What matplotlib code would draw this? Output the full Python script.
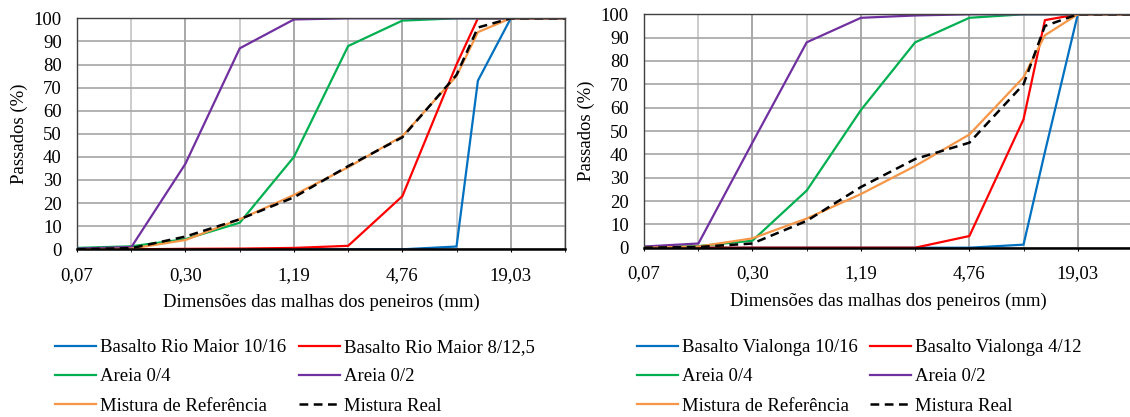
import matplotlib
matplotlib.use("Agg")
import matplotlib.pyplot as plt
from matplotlib.ticker import FixedLocator, NullFormatter

plt.rcParams['font.family'] = ['Liberation Serif', 'DejaVu Serif']

# sieve sizes (mm)
sieves = [0.0743, 0.149, 0.297, 0.595, 1.19, 2.38, 4.76, 9.51, 12.5, 19.03, 38.06]
major_ticks = [0.0743, 0.297, 1.19, 4.76, 19.03]
major_labels = ["0,07", "0,30", "1,19", "4,76", "19,03"]
minor_ticks = [0.149, 0.595, 2.38, 9.51, 38.06]

# left chart - Rio Maior
rm_labels = ["Basalto Rio Maior 10/16", "Basalto Rio Maior 8/12,5", "Areia 0/4",
             "Areia 0/2", "Mistura de Referência", "Mistura Real"]
rm_basalto_1016 = [0, 0, 0, 0, 0, 0, 0, 1.2, 73, 100, 100]
rm_basalto_812 = [0, 0, 0.2, 0.3, 0.6, 1.5, 23, 80, 100, 100, 100]
rm_areia_04 = [0.6, 1.3, 4.4, 11.5, 40, 88, 99, 100, 100, 100, 100]
rm_areia_02 = [0.3, 1.0, 37, 87, 99.5, 100, 100, 100, 100, 100, 100]
rm_referencia = [0, 0.3, 4, 13, 23.5, 35.5, 49, 75, 94, 100, 100]
rm_real = [0, 0.5, 5.5, 13, 22.5, 36, 48.5, 75.5, 96, 100, 100]

# right chart - Vialonga
vl_labels = ["Basalto Vialonga 10/16", "Basalto Vialonga 4/12", "Areia 0/4",
             "Areia 0/2", "Mistura de Referência", "Mistura Real"]
vl_basalto_1016 = [0, 0, 0, 0, 0, 0, 0, 1.3, 41, 100, 100]
vl_basalto_412 = [0, 0, 0, 0, 0, 0, 5, 55, 97.5, 100, 100]
vl_areia_04 = [0.3, 0.7, 3, 24.5, 59, 88, 98.5, 100, 100, 100, 100]
vl_areia_02 = [0.5, 1.8, 45, 88, 98.5, 99.5, 100, 100, 100, 100, 100]
vl_referencia = [0, 0.5, 4, 12.5, 23, 35, 48.5, 73, 91, 100, 100]
vl_real = [0, 0.3, 1.8, 11.5, 26, 38, 45, 70, 95, 100, 100]

colors = ["#0070C0", "#FF0000", "#00B050", "#7030A0", "#F79646", "black"]


def draw(ax, series, labels, legend_pos):
    handles = []
    for i, (vals, lab) in enumerate(zip(series, labels)):
        if i == 5:
            h, = ax.plot(sieves, vals, color=colors[i], lw=1.8, ls=(0, (3.5, 2.2)), label=lab)
        else:
            h, = ax.plot(sieves, vals, color=colors[i], lw=1.6, label=lab)
        handles.append(h)
    ax.set_xscale("log")
    ax.set_xlim(0.0743, 38.06)
    ax.set_ylim(0, 100)
    ax.xaxis.set_major_locator(FixedLocator(major_ticks))
    ax.xaxis.set_minor_locator(FixedLocator(minor_ticks))
    ax.set_xticklabels(major_labels)
    ax.xaxis.set_minor_formatter(NullFormatter())
    ax.set_yticks(range(0, 101, 10))
    ax.grid(True, which="major", axis="x", color="#9a9a9a", lw=1.2)
    ax.grid(True, which="minor", axis="x", color="#c4c4c4", lw=1.2)
    ax.grid(True, which="major", axis="y", color="#a6a6a6", lw=1.2)
    ax.set_axisbelow(True)
    for s in ["top", "right", "left"]:
        ax.spines[s].set_color("#404040")
        ax.spines[s].set_linewidth(1.0)
    ax.spines["bottom"].set_linewidth(1.8)
    ax.tick_params(axis="x", which="both", length=2.5, direction="out", labelsize=13.5, pad=10)
    ax.tick_params(axis="y", length=0, labelsize=13.5, pad=11)
    ax.set_xlabel("Dimensões das malhas dos peneiros (mm)", fontsize=13.5, labelpad=7.5)
    ax.set_ylabel("Passados (%)", fontsize=13.5, labelpad=4)
    order = [0, 2, 4, 1, 3, 5]
    ax.legend([handles[k] for k in order], [labels[k] for k in order],
              loc="upper left", bbox_to_anchor=legend_pos, bbox_transform=ax.figure.transFigure,
              ncol=2, frameon=False, fontsize=13.5, handlelength=2.2, handletextpad=0.2,
              columnspacing=0.66, labelspacing=0.65, borderaxespad=0, borderpad=0)


fig = plt.figure(figsize=(11.3, 4.17), dpi=100)
ax1 = fig.add_axes([77 / 1130, 1 - 249.3 / 417, 488 / 1130, 231 / 417])
ax2 = fig.add_axes([644 / 1130, 1 - 247.7 / 417, 488 / 1130, 233.4 / 417])

draw(ax1, [rm_basalto_1016, rm_basalto_812, rm_areia_04, rm_areia_02, rm_referencia, rm_real],
     rm_labels, (55 / 1130, 1 - 339 / 417))
draw(ax2, [vl_basalto_1016, vl_basalto_412, vl_areia_04, vl_areia_02, vl_referencia, vl_real],
     vl_labels, (637 / 1130, 1 - 339 / 417))

fig.savefig("out.png", dpi=100)
